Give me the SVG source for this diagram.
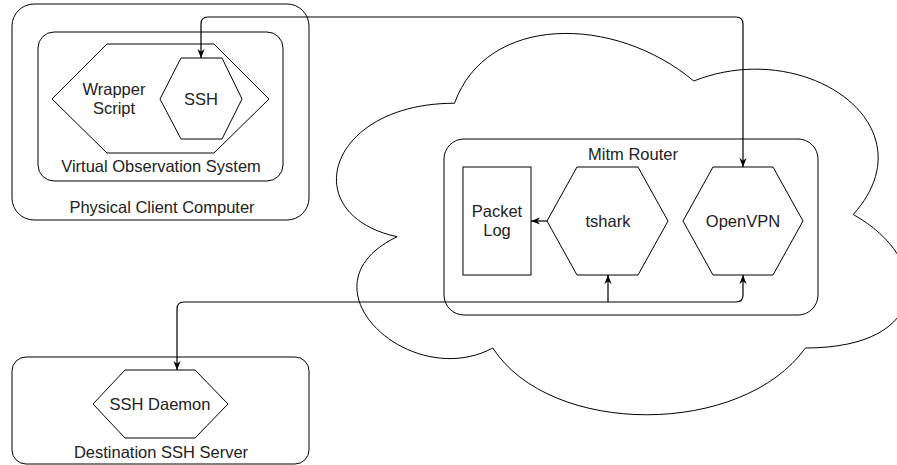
<svg xmlns="http://www.w3.org/2000/svg" width="897" height="465" viewBox="0 0 897 465">
<style>
.sh{fill:#fff;stroke:#000;stroke-width:1}
.t{font-family:"Liberation Sans",Arial,Helvetica,sans-serif;font-size:16.5px;fill:#222;text-anchor:middle}
.c{fill:none;stroke:#000;stroke-width:1.2}
</style>
<defs>
<marker id="arr" viewBox="0 0 10 10" refX="10" refY="5" markerWidth="9" markerHeight="9" markerUnits="userSpaceOnUse" orient="auto-start-reverse">
<path d="M0,1 L10,5 L0,9 L3,5 z" fill="#000"/>
</marker>
</defs>
<rect width="897" height="465" fill="#fff"/>

<g id="physical-client">
<rect class="sh" x="12" y="4" width="297" height="216" rx="22"/>
<text class="t" x="162" y="213">Physical Client Computer</text>
</g>
<g id="virtual-observation">
<rect class="sh" x="38" y="32" width="245" height="149" rx="16"/>
<text class="t" x="161" y="172">Virtual Observation System</text>
</g>
<g id="wrapper-script">
<polygon class="sh" points="52,99 107,44 214,44 269,99 214,153 107,153"/>
<text class="t" x="114" y="95">Wrapper</text>
<text class="t" x="114" y="114">Script</text>
</g>
<g id="ssh">
<polygon class="sh" points="160,99 181,58 222,58 242,99 222,139 181,139"/>
<text class="t" x="201" y="105">SSH</text>
</g>

<g id="internet-cloud">
<path class="sh" d="M454.5,103.25 C326.9,103.25 295,214.5 397.1,236.75 C295,285.7 409.8,392.5 492.8,348 C550.2,437 741.6,437 805.4,348 C933,348 933,259 853.25,214.5 C933,125.5 805.4,36.5 693.75,81 C614,14.25 486.4,14.25 454.5,103.25 Z"/>
</g>
<g id="mitm-router">
<rect class="sh" x="444" y="139" width="374" height="176" rx="20"/>
<text class="t" x="633" y="160">Mitm Router</text>
</g>
<g id="packet-log">
<rect class="sh" x="463" y="167" width="68" height="108"/>
<text class="t" x="497" y="217">Packet</text>
<text class="t" x="497" y="236">Log</text>
</g>
<g id="tshark">
<polygon class="sh" points="547,221 577,167 638,167 668,221 638,275 577,275"/>
<text class="t" x="608" y="227">tshark</text>
</g>
<g id="openvpn">
<polygon class="sh" points="683,221 713,167 773,167 803,221 773,275 713,275"/>
<text class="t" x="743" y="227">OpenVPN</text>
</g>

<g id="destination-server">
<rect class="sh" x="12" y="357" width="297" height="107" rx="14"/>
<text class="t" x="161" y="458">Destination SSH Server</text>
</g>
<g id="ssh-daemon">
<polygon class="sh" points="93,404 125,370 195,370 228,404 195,438 125,438"/>
<text class="t" x="160" y="410">SSH Daemon</text>
</g>

<g id="connectors">
<path class="c" d="M201,58 V24 Q201,17 208,17 H736 Q743,17 743,24 V167" marker-start="url(#arr)" marker-end="url(#arr)"/>
<path class="c" d="M177,370 V309 Q177,302 184,302 H736 Q743,302 743,295 V275" marker-start="url(#arr)" marker-end="url(#arr)"/>
<path class="c" d="M608,302 V275" marker-end="url(#arr)"/>
<path class="c" d="M547,221 H531" marker-end="url(#arr)"/>
</g>
</svg>
